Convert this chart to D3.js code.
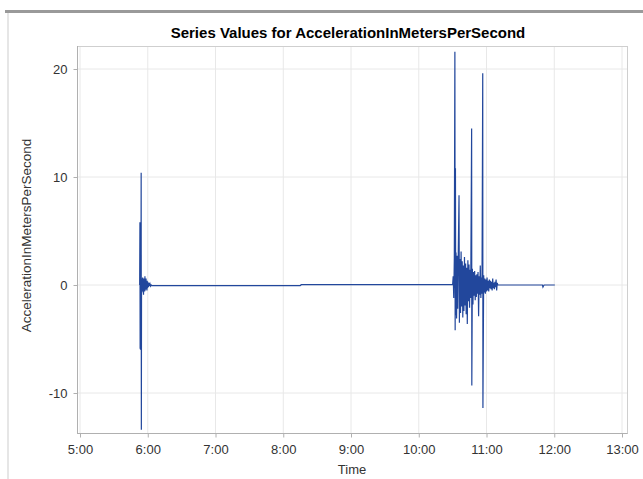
<!DOCTYPE html>
<html>
<head>
<meta charset="utf-8">
<script src="https://cdn.jsdelivr.net/npm/d3@7"></script>
<style>
  body { margin: 0; background: #fff; }
  svg { display: block; font-family: "Liberation Sans", Arial, sans-serif; }
  .tick text { fill: #333; font-size: 13px; }
</style>
</head>
<body>
<svg id="chart" width="643" height="479"></svg>
<script>
// sample times (clock time) and acceleration readings
var sampleTimes = [
  "05:52:50","05:53:05","05:53:15","05:53:25","05:53:35","05:53:45","05:53:55",
  "05:54:10","05:54:20","05:54:30","05:54:45","05:55:00","05:55:15","05:55:30",
  "05:55:45","05:56:00","05:56:15","05:56:30","05:56:45","05:57:00","05:57:15",
  "05:57:30","05:57:45","05:58:00","05:58:15","05:58:30","05:58:45","05:59:00",
  "05:59:15","05:59:30","05:59:45","06:00:00","06:00:30","06:01:00","06:01:30",
  "06:02:00","06:02:30","06:03:00",
  "06:03:30","08:15:00","08:16:00","10:30:00",
  "10:30:30","10:31:00","10:31:30","10:32:00","10:32:15","10:32:30","10:32:45",
  "10:33:00","10:33:30","10:34:00","10:34:30","10:35:00","10:35:40","10:36:00",
  "10:36:30","10:37:00","10:37:30","10:38:00","10:38:30","10:39:00","10:39:30",
  "10:40:00","10:40:30","10:41:00","10:41:30","10:42:00","10:42:30","10:43:00",
  "10:43:30","10:44:00","10:44:30","10:45:00","10:45:30","10:46:00","10:46:50",
  "10:47:00","10:47:30","10:48:00","10:48:30","10:49:00","10:49:30","10:50:00",
  "10:50:30","10:51:00","10:51:30","10:52:00","10:52:30","10:53:00","10:53:30",
  "10:54:00","10:54:30","10:55:00","10:55:30","10:56:00","10:56:40","10:56:50",
  "10:57:30","10:58:00","10:58:30","10:59:00","10:59:30","11:00:00","11:00:30",
  "11:01:00","11:01:30","11:02:00","11:02:30","11:03:00","11:03:30","11:04:00",
  "11:04:30","11:05:00","11:05:30","11:06:00","11:06:30","11:07:00","11:07:30",
  "11:08:00","11:08:30","11:09:00","11:09:30","11:10:00",
  "11:49:30","11:50:00","11:50:30","11:51:00","12:00:30"
];

var accel = [
  0.0, 5.8, -5.9, 5.7, -6.0, 5.5, -5.6,
  10.4, -13.4, 0.6, -0.7, 0.5, -0.6, 0.7,
  -0.5, 0.4, -0.9, 0.6, -0.4, 0.5, -0.6,
  0.8, -0.5, 0.4, -0.3, 0.6, -0.4, 0.3,
  -0.5, 0.4, -0.3, 0.3, -0.2, 0.2, -0.1,
  0.1, -0.1, 0.0,
  -0.05, -0.05, 0.03, 0.03,
  0.8, -1.2, 2.5, 21.6, -4.2, 10.8, -2.8,
  3.0, -3.1, 2.7, -2.2, 2.9, 8.3, -3.5,
  2.4, -2.6, 3.1, -2.0, 2.2, -3.0, 1.8,
  -2.4, 2.6, -1.9, 2.0, -2.7, 1.6, -3.6,
  2.3, -1.5, 1.9, -2.1, 1.4, -1.2, 14.5,
  -9.3, 1.5, -1.8, 1.2, -1.0, 1.3, -1.4,
  0.9, -1.1, 1.0, -0.8, 1.2, -2.9, 0.8,
  -0.9, 1.8, -1.2, 0.7, -0.8, 19.6, -11.4,
  0.9, -0.7, 0.6, -0.8, 0.5, -0.6, 0.7,
  -0.5, 0.4, -0.6, 0.5, -0.3, 0.4, -0.4,
  0.3, -0.5, 0.6, -0.3, 0.2, -0.4, 0.3,
  -0.2, 0.5, -0.5, 0.2, 0.0,
  0.0, -0.2, -0.1, 0.0, 0.0
];

var hourTicks = ["05:00:00","06:00:00","07:00:00","08:00:00","09:00:00",
                 "10:00:00","11:00:00","12:00:00","13:00:00"];
var yTicks = [-10, 0, 10, 20];

var chartTitle = "Series Values for AccelerationInMetersPerSecond";
var xTitle = "Time";
var yTitle = "AccelerationInMetersPerSecond";

var svg = d3.select("#chart");
var parseTime = d3.timeParse("%H:%M:%S");

// plot area (frame)
var frame = { left: 77, right: 627, top: 46, bottom: 433 };

var x = d3.scaleTime()
    .domain([parseTime(hourTicks[0]), parseTime(hourTicks[hourTicks.length - 1])])
    .range([80, 622]);
var y = d3.scaleLinear()
    .domain([-10, 20])
    .range([393, 69]);

var data = sampleTimes.map(function(t, i) {
    return { t: parseTime(t), v: accel[i] };
});

// page decorations (window edges in the screenshot)
svg.append("rect").attr("x", 5).attr("y", 10).attr("width", 638).attr("height", 3)
    .attr("fill", "#9a9a9a");
svg.append("rect").attr("x", 7).attr("y", 13).attr("width", 2).attr("height", 466)
    .attr("fill", "#e6e6e6");

// grid
var grid = svg.append("g");
grid.selectAll(".vg").data(hourTicks).enter().append("line")
    .attr("x1", function(d) { return x(parseTime(d)); })
    .attr("x2", function(d) { return x(parseTime(d)); })
    .attr("y1", frame.top).attr("y2", frame.bottom)
    .attr("stroke", "#e8e8e8");
grid.selectAll(".hg").data(yTicks).enter().append("line")
    .attr("y1", function(d) { return y(d); })
    .attr("y2", function(d) { return y(d); })
    .attr("x1", frame.left).attr("x2", frame.right)
    .attr("stroke", "#e8e8e8");

// frame
svg.append("rect")
    .attr("x", frame.left + 0.5).attr("y", frame.top + 0.5)
    .attr("width", frame.right - frame.left).attr("height", frame.bottom - frame.top)
    .attr("fill", "none").attr("stroke", "#cfcfcf");

// series
var line = d3.line()
    .x(function(d) { return x(d.t); })
    .y(function(d) { return y(d.v); });

svg.append("path")
    .datum(data)
    .attr("d", line)
    .attr("fill", "none")
    .attr("stroke", "#22479c")
    .attr("stroke-width", 1.2)
    .attr("stroke-linejoin", "miter");

// axes
var xAxis = d3.axisBottom(x)
    .tickValues(hourTicks.map(parseTime))
    .tickFormat(d3.timeFormat("%-H:%M"))
    .tickSize(4).tickSizeOuter(0).tickPadding(7);
var gx = svg.append("g")
    .attr("transform", "translate(0," + (frame.bottom + 0.5) + ")")
    .call(xAxis);
gx.select(".domain").attr("d", "M" + frame.left + ",0H" + (frame.right + 0.5)).attr("stroke", "#b0b0b0");
gx.selectAll(".tick line").attr("stroke", "#b0b0b0");

var yAxis = d3.axisLeft(y)
    .tickValues(yTicks)
    .tickFormat(function(d) { return String(d); })
    .tickSize(4).tickSizeOuter(0).tickPadding(6);
var gy = svg.append("g")
    .attr("transform", "translate(" + (frame.left + 0.5) + ",0)")
    .call(yAxis);
gy.select(".domain").attr("d", "M0," + frame.top + "V" + (frame.bottom + 0.5)).attr("stroke", "#b0b0b0");
gy.selectAll(".tick line").attr("stroke", "#b0b0b0");

// titles
svg.append("text")
    .attr("x", (frame.left + frame.right) / 2 - 4).attr("y", 38)
    .attr("text-anchor", "middle")
    .style("font-size", "15px").style("font-weight", "bold").attr("fill", "#000")
    .text(chartTitle);

svg.append("text")
    .attr("x", (frame.left + frame.right) / 2).attr("y", 474)
    .attr("text-anchor", "middle")
    .style("font-size", "13px").attr("fill", "#333")
    .text(xTitle);

svg.append("text")
    .attr("transform", "translate(31," + ((frame.top + frame.bottom) / 2 - 4) + ") rotate(-90)")
    .attr("text-anchor", "middle")
    .style("font-size", "13.5px").attr("fill", "#333")
    .text(yTitle);
</script>
</body>
</html>
